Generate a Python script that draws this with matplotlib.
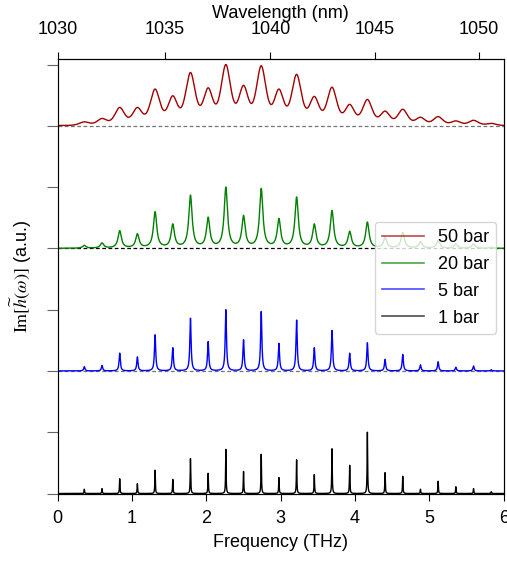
import numpy as np
import matplotlib
matplotlib.use('Agg')
import matplotlib.pyplot as plt
from matplotlib.lines import Line2D

plt.rcParams['font.family'] = ['Liberation Sans', 'DejaVu Sans']
plt.rcParams['mathtext.fontset'] = 'stix'
plt.rcParams['font.size'] = 13

# ---- data ----
peak_freqs = [0.358, 0.596, 0.834, 1.072, 1.310, 1.548, 1.786, 2.024, 2.262, 2.500,
              2.738, 2.976, 3.214, 3.452, 3.690, 3.928, 4.166, 4.404, 4.642, 4.880,
              5.118, 5.356, 5.594, 5.832]
h_50bar = [0.065, 0.12, 0.30, 0.30, 0.60, 0.49, 0.87, 0.62, 1.00, 0.66, 0.98, 0.60,
           0.84, 0.48, 0.63, 0.35, 0.43, 0.24, 0.27, 0.14, 0.15, 0.08, 0.09, 0.04]
h_20bar = [0.05, 0.09, 0.29, 0.24, 0.60, 0.40, 0.87, 0.51, 1.00, 0.54, 0.98, 0.49,
           0.84, 0.40, 0.62, 0.28, 0.43, 0.18, 0.26, 0.11, 0.13, 0.07, 0.07, 0.02]
h_5bar = [0.07, 0.09, 0.29, 0.23, 0.59, 0.38, 0.86, 0.48, 1.00, 0.51, 0.97, 0.45,
          0.83, 0.38, 0.66, 0.29, 0.46, 0.19, 0.27, 0.10, 0.15, 0.06, 0.08, 0.02]
h_1bar = [0.07, 0.08, 0.24, 0.16, 0.38, 0.23, 0.57, 0.33, 0.72, 0.36, 0.64, 0.26,
          0.55, 0.31, 0.73, 0.46, 1.00, 0.34, 0.28, 0.07, 0.20, 0.11, 0.08, 0.03]
# line width (THz) and Lorentzian fraction of the line shape for each pressure
line_width = {'50 bar': 0.068, '20 bar': 0.027, '5 bar': 0.010, '1 bar': 0.004}
lorentz_frac = {'50 bar': 0.35, '20 bar': 1.0, '5 bar': 1.0, '1 bar': 1.0}
labels = ['50 bar', '20 bar', '5 bar', '1 bar']
offsets = [6, 4, 2, 0]
colors = ['#a00000', '#008000', '#0000ff', '#000000']
heights = [h_50bar, h_20bar, h_5bar, h_1bar]

wl_ticks = [1030, 1035, 1040, 1045, 1050]
freq_ticks = [0, 1, 2, 3, 4, 5, 6]
C = 299792.458  # nm*THz
wl_scale = 1.022

f = np.linspace(0, 6, 24001)


def shape(d, w, eta):
    lor = w ** 2 / (d ** 2 + w ** 2)
    gau = np.exp(-d ** 2 / (2 * w ** 2))
    return eta * lor + (1 - eta) * gau


def profile(hs, w, eta):
    c = np.array(peak_freqs)
    H = np.array(hs, dtype=float)
    M = shape(c[:, None] - c[None, :], w, eta)
    A = H.copy()
    for _ in range(1000):
        A = np.clip(A + 0.5 * (H - M @ A), 0, None)
    return (A[None, :] * shape(f[:, None] - c[None, :], w, eta)).sum(1)


fig = plt.figure(figsize=(5.07, 5.61), dpi=100)
ax = fig.add_axes([57.7 / 507, 1 - 493.5 / 561, 446 / 507, 434.5 / 561])

dash_cols = {6: '0.45', 4: '0.0', 2: '0.45'}
for off, dc in dash_cols.items():
    ax.axhline(off, color=dc, ls=(0, (3, 2)), lw=0.9, zorder=1)

for lab, off, col, hs in zip(labels, offsets, colors, heights):
    y = profile(hs, line_width[lab], lorentz_frac[lab])
    ax.plot(f, off + y, color=col, lw=1.0, zorder=2)

ax.set_xlim(0, 6)
ax.set_ylim(0, 7.09)
ax.set_xticks(freq_ticks)
ax.set_yticks(range(0, 8))
ax.tick_params(axis='y', direction='out', length=8, colors='0.4', labelleft=False)
ax.tick_params(axis='x', direction='out', length=5, pad=7)
ax.spines['left'].set_color('0.45')
ax.set_xlabel('Frequency (THz)', labelpad=5)
ax.set_ylabel(r'$\mathrm{Im}[\widetilde{h}(\omega)]$ (a.u.)')
ax.yaxis.set_label_coords(-0.053, 0.5)

ax2 = ax.twiny()
ax2.set_xlim(0, 6)
pos = [wl_scale * (C / wl_ticks[0] - C / w) for w in wl_ticks]
ax2.set_xticks(pos)
ax2.set_xticklabels([str(w) for w in wl_ticks])
ax2.tick_params(axis='x', direction='out', length=5, pad=10)
ax2.set_xlabel('Wavelength (nm)', labelpad=2.5)

handles = [Line2D([], [], color=c, lw=1.2, alpha=0.7) for c in colors]
leg = ax.legend(handles, labels, loc='upper left', bbox_to_anchor=(0.711, 0.6255),
                borderaxespad=0, handlelength=2.3, labelspacing=0.55, fontsize=13)

fig.savefig('out.png', dpi=100)
